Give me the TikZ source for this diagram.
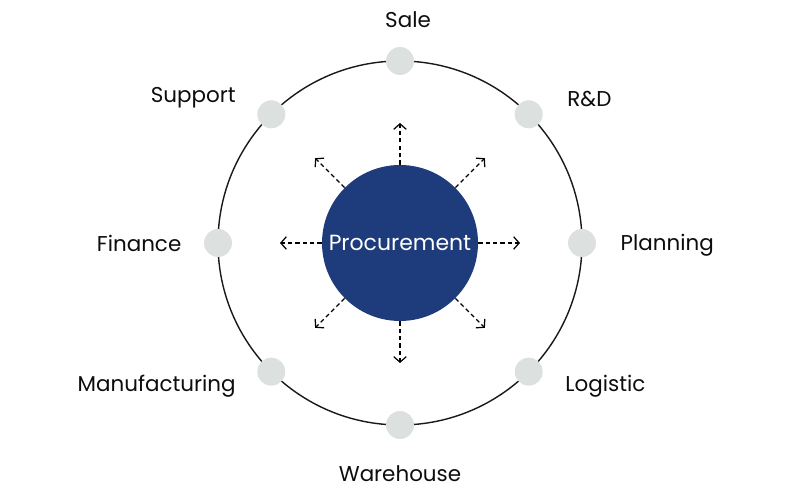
\documentclass[tikz,border=0pt]{standalone}
\usepackage{fontspec}
\setmainfont{Poppins}
\usetikzlibrary{
  arrows.meta,
  positioning,  % Function "of" (e.g. [right=of x])
}
\definecolor{procblue}{HTML}{1E3B7C}
\definecolor{dotgrey}{HTML}{DCE1E0}
\def\myring{3.64cm}
\def\myreach{2.4cm}
\tikzset{
  font=\fontsize{12.2}{14}\selectfont,
  >={Straight Barb[length=1.1mm,width=2.5mm]},
  ring/.style={
    draw=black!90,
    line width=0.8pt
  },
  my dot/.style={
    circle,
    fill=dotgrey,
    minimum size=0.56cm,
    inner sep=0mm
  },
  my center/.style={
    circle,
    fill=procblue,
    minimum size=3.12cm,
    inner sep=0mm,
    text=white,
    font=\fontsize{12.5}{14}\selectfont
  },
  lbl/.style={
    inner sep=0mm,
    text=black!95
  },
  spoke/.style={
    ->,
    line width=0.7pt,
    dash pattern=on 2.4pt off 1.8pt
  }
}
\begin{document}
\begin{tikzpicture}
\useasboundingbox (-8,-5.14) rectangle (8,4.86);
\coordinate (c) at (0,0);
\draw[ring] (c) circle (\myring);
% dots on the ring
\node[my dot] (sale)      at (90:\myring)  {};
\node[my dot] (rd)        at (45:\myring)  {};
\node[my dot] (planning)  at (0:\myring)   {};
\node[my dot] (logistic)  at (-45:\myring) {};
\node[my dot] (warehouse) at (-90:\myring) {};
\node[my dot] (manuf)     at (225:\myring) {};
\node[my dot] (finance)   at (180:\myring) {};
\node[my dot] (support)   at (135:\myring) {};
% labels
\node[lbl] [above=0.38cm of sale, xshift=0.16cm] {Sale};
\node[lbl] [right=0.48cm of rd, yshift=0.3cm] {R\&D};
\node[lbl] [right=0.48cm of planning, yshift=-0.04cm] {Planning};
\node[lbl] [right=0.44cm of logistic, yshift=-0.3cm] {Logistic};
\node[lbl] [below=0.52cm of warehouse] {Warehouse};
\node[lbl] [left=0.42cm of manuf, yshift=-0.3cm] {Manufacturing};
\node[lbl] [left=0.44cm of finance] {Finance};
\node[lbl] [left=0.42cm of support, yshift=0.34cm] {Support};
% centre and spokes
\node[my center] (proc) at (c) {Procurement};
\foreach \a in {0,45,...,315}
  \coordinate (t\a) at (\a:\myreach);
\foreach \a in {0,45,...,315}
  \draw[spoke] (proc.\a) -- (t\a);
\end{tikzpicture}
\end{document}
